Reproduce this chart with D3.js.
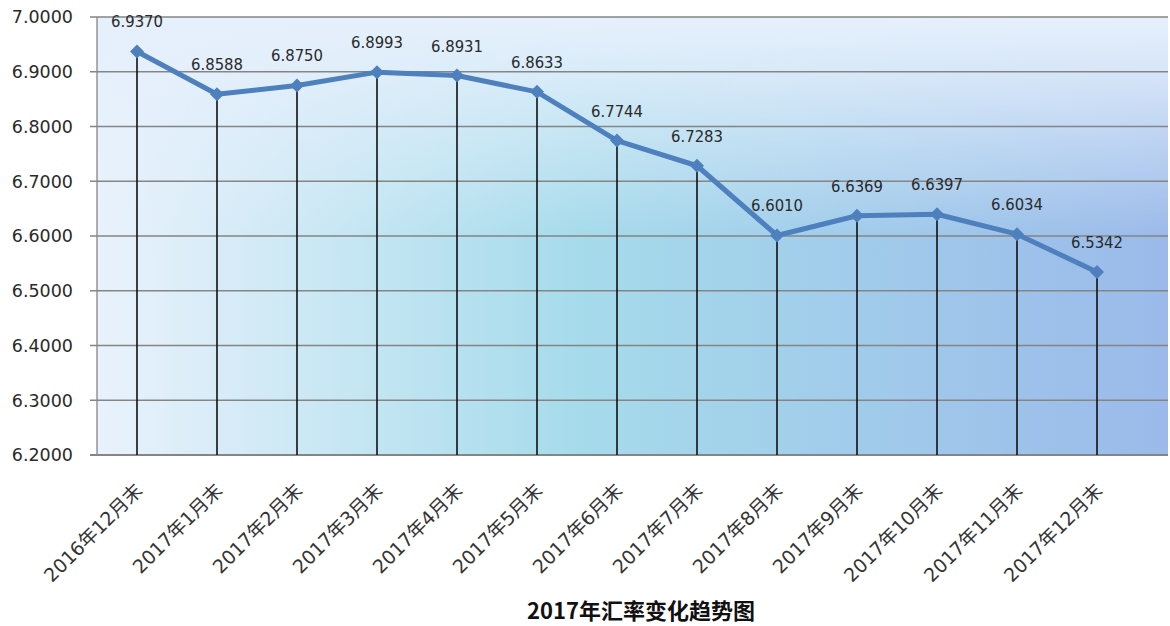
<!DOCTYPE html>
<html>
<head>
<meta charset="utf-8">
<script src="https://cdn.jsdelivr.net/npm/d3@7"></script>
<style>
  body { margin: 0; background: #fff; }
</style>
</head>
<body>
<div id="chart"></div>
<script>
// data
const categories = ["2016年12月末", "2017年1月末", "2017年2月末", "2017年3月末", "2017年4月末",
  "2017年5月末", "2017年6月末", "2017年7月末", "2017年8月末", "2017年9月末",
  "2017年10月末", "2017年11月末", "2017年12月末"];
const rates = [6.9370, 6.8588, 6.8750, 6.8993, 6.8931, 6.8633, 6.7744, 6.7283,
  6.6010, 6.6369, 6.6397, 6.6034, 6.5342];
const yTicks = [6.2, 6.3, 6.4, 6.5, 6.6, 6.7, 6.8, 6.9, 7.0];
const title = "2017年汇率变化趋势图";

// layout
const W = 1170, H = 626;
const plot = { left: 97, right: 1168, top: 17, bottom: 455 };

const svg = d3.select("#chart").append("svg")
  .attr("width", W).attr("height", H);

const defs = svg.append("defs");

// background: light -> teal -> blue, plus a white fade at the top
const hg = defs.append("linearGradient").attr("id", "bgH")
  .attr("x1", "0%").attr("y1", "0%").attr("x2", "100%").attr("y2", "0%");
hg.append("stop").attr("offset", "0%").attr("stop-color", "#e9f2fc");
hg.append("stop").attr("offset", "45%").attr("stop-color", "#a6dbeb");
hg.append("stop").attr("offset", "100%").attr("stop-color", "#9bbaea");

const vg = defs.append("linearGradient").attr("id", "bgV")
  .attr("x1", "0%").attr("y1", "0%").attr("x2", "0%").attr("y2", "100%");
vg.append("stop").attr("offset", "0%").attr("stop-color", "#e6f0fc").attr("stop-opacity", 1);
vg.append("stop").attr("offset", "12%").attr("stop-color", "#e6f0fc").attr("stop-opacity", 0.8);
vg.append("stop").attr("offset", "50%").attr("stop-color", "#e6f0fc").attr("stop-opacity", 0);
vg.append("stop").attr("offset", "100%").attr("stop-color", "#e6f0fc").attr("stop-opacity", 0);

svg.append("rect")
  .attr("x", plot.left).attr("y", plot.top)
  .attr("width", plot.right - plot.left).attr("height", plot.bottom - plot.top)
  .attr("fill", "url(#bgH)");
svg.append("rect")
  .attr("x", plot.left).attr("y", plot.top)
  .attr("width", plot.right - plot.left).attr("height", plot.bottom - plot.top)
  .attr("fill", "url(#bgV)");

// scales
const x = d3.scalePoint().domain(categories).range([137, 1097]);
const y = d3.scaleLinear().domain([6.2, 7.0]).range([plot.bottom, plot.top]);

// gridlines
svg.append("g").selectAll("line")
  .data(yTicks)
  .join("line")
  .attr("x1", plot.left - 7).attr("x2", plot.right)
  .attr("y1", d => y(d)).attr("y2", d => y(d))
  .attr("stroke", "#858585")
  .attr("stroke-width", d => d === 6.2 ? 2 : 1.3);

// y axis line
svg.append("line")
  .attr("x1", plot.left).attr("x2", plot.left)
  .attr("y1", plot.top).attr("y2", plot.bottom)
  .attr("stroke", "#858585").attr("stroke-width", 1.3);

// y labels
svg.append("g").selectAll("text")
  .data(yTicks)
  .join("text")
  .attr("x", 73)
  .attr("y", d => y(d))
  .attr("dy", "0.36em")
  .attr("text-anchor", "end")
  .attr("font-family", "'DejaVu Sans', sans-serif")
  .attr("font-size", "17.5px")
  .attr("fill", "#2a2a2a")
  .text(d => d.toFixed(4));

// drop lines
svg.append("g").selectAll("line")
  .data(rates)
  .join("line")
  .attr("x1", (d, i) => x(categories[i])).attr("x2", (d, i) => x(categories[i]))
  .attr("y1", d => y(d)).attr("y2", plot.bottom)
  .attr("stroke", "#111").attr("stroke-width", 1.6);

// line
const line = d3.line()
  .x((d, i) => x(categories[i]))
  .y(d => y(d));

svg.append("path")
  .datum(rates)
  .attr("d", line)
  .attr("fill", "none")
  .attr("stroke", "#4d80bd")
  .attr("stroke-width", 5)
  .attr("stroke-linejoin", "round");

// diamond markers
const s = 7;
svg.append("g").selectAll("path")
  .data(rates)
  .join("path")
  .attr("transform", (d, i) => `translate(${x(categories[i])},${y(d)})`)
  .attr("d", `M0,${-s}L${s},0L0,${s}L${-s},0Z`)
  .attr("fill", "#4d80bd");

// value labels
svg.append("g").selectAll("text")
  .data(rates)
  .join("text")
  .attr("x", (d, i) => x(categories[i]))
  .attr("y", d => y(d) - 24)
  .attr("text-anchor", "middle")
  .attr("font-family", "'DejaVu Sans Condensed', 'DejaVu Sans', sans-serif")
  .attr("font-stretch", "condensed")
  .attr("font-size", "16.5px")
  .attr("fill", "#2a2a2a")
  .text(d => d.toFixed(4));

// x labels
svg.append("g").selectAll("text")
  .data(categories)
  .join("text")
  .attr("transform", d => `translate(${x(d) + 2},${plot.bottom + 32}) rotate(-45)`)
  .attr("text-anchor", "end")
  .attr("dy", "0.35em")
  .attr("font-family", "'DejaVu Sans', 'Noto Sans CJK SC', sans-serif")
  .attr("font-size", "19px")
  .attr("fill", "#333")
  .text(d => d);

// title
svg.append("text")
  .attr("x", 641)
  .attr("y", 619)
  .attr("text-anchor", "middle")
  .attr("font-family", "'Noto Sans CJK SC', sans-serif")
  .attr("font-weight", "bold")
  .attr("font-size", "22px")
  .attr("fill", "#111")
  .text(title);
</script>
</body>
</html>
